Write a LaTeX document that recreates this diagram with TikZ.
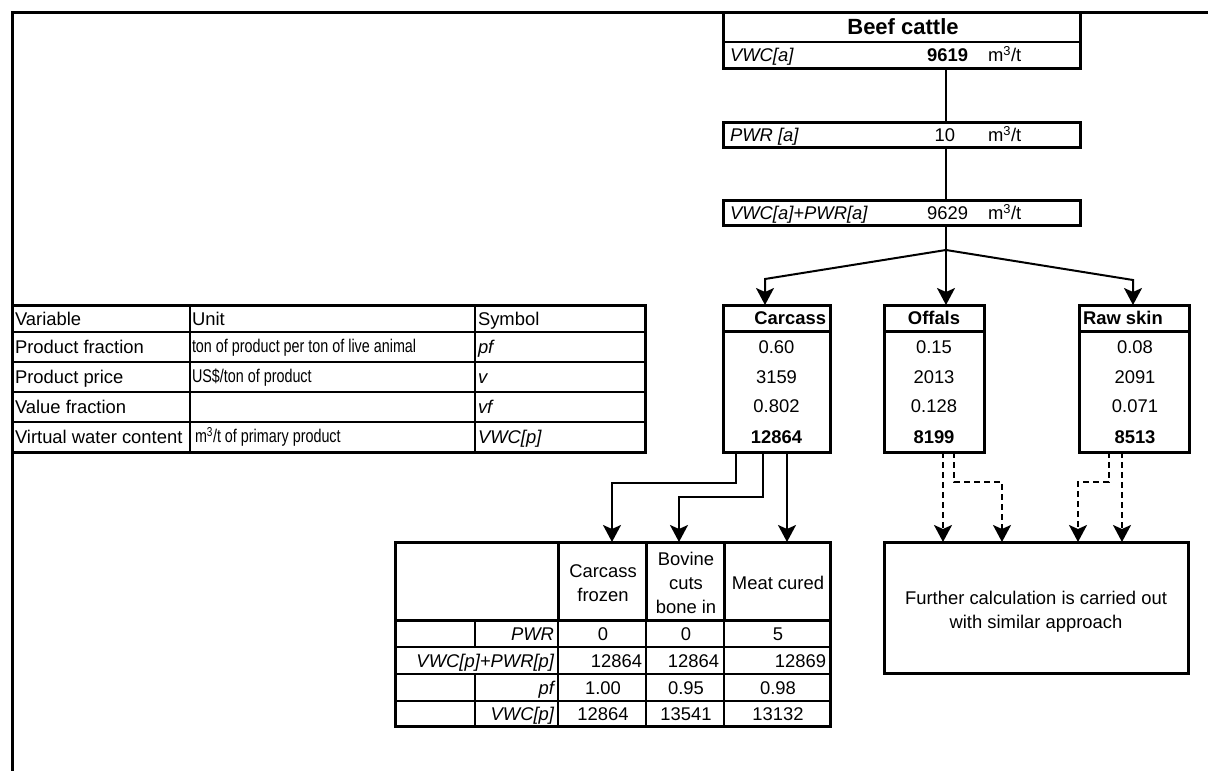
\documentclass[tikz,border=0pt]{standalone}
\usepackage{fontspec}
\setmainfont{Liberation Sans}
\newfontfamily\narrowfont{Liberation Sans}[FakeStretch=0.78]
\usetikzlibrary{arrows.meta}
\tikzset{
  txt/.style={inner sep=0pt, outer sep=0pt, text height=13.3pt, text depth=0.1pt, font=\fontsize{18.4}{21}\selectfont},
  bigtxt/.style={txt, text height=15.8pt, font=\fontsize{22}{24}\selectfont\bfseries},
  narrowtxt/.style={txt, text height=13pt, font=\fontsize{18.4}{21}\selectfont\narrowfont},
  box/.style={draw, line width=3pt, inner sep=0pt, outer sep=0pt, anchor=north west},
  frameline/.style={line width=3pt},
  midline/.style={line width=1.8pt},
  thinline/.style={line width=1.1pt},
  conn/.style={line width=2pt},
  arr/.style={conn, -{Stealth[length=17pt,width=18pt,inset=4pt]}},
  darr/.style={arr, dash pattern=on 6pt off 4pt},
}
\begin{document}
\begin{tikzpicture}[x=1pt,y=-1pt]
\useasboundingbox (0,0) rectangle (1208,771);
% outer frame
\coordinate (fbl) at (12,771);
\coordinate (ftl) at (12,12);
\coordinate (ftr) at (1208,12);
\draw[frameline] (fbl) -- (ftl) -- (ftr);

% ---- Beef cattle box
\node[box, minimum width=357pt, minimum height=56pt] (beef) at (723,12) {};
\draw[midline] (723,42) -- (1080,42);
\node[bigtxt] (beefT) at (903,27) {Beef cattle};
\node[txt, anchor=west] (vwcaL) at (730,55) {\itshape VWC[a]};
\node[txt, anchor=east] (vwcaV) at (968,55) {\bfseries 9619};
\node[txt, anchor=west] (vwcaU) at (988,55) {m\textsuperscript{3}/t};

% ---- PWR box
\node[box, minimum width=357pt, minimum height=25pt] (pwr) at (723,122) {};
\node[txt, anchor=west] (pwrL) at (730,135) {\itshape PWR [a]};
\node[txt, anchor=east] (pwrV) at (955,135) {10};
\node[txt, anchor=west] (pwrU) at (988,135) {m\textsuperscript{3}/t};

% ---- VWC+PWR box
\node[box, minimum width=357pt, minimum height=25pt] (vp) at (723,200) {};
\node[txt, anchor=west] (vpL) at (730,213) {\itshape VWC[a]+PWR[a]};
\node[txt, anchor=east] (vpV) at (968,213) {9629};
\node[txt, anchor=west] (vpU) at (988,213) {m\textsuperscript{3}/t};

% ---- product boxes
\node[box, minimum width=107pt, minimum height=147pt] (carcass) at (723,305) {};
\draw[frameline] (723,331) -- (830,331);
\node[txt, anchor=east] (carT) at (826,318) {\bfseries Carcass};
\node[txt] (car1) at (776.5,347) {0.60};
\node[txt] (car2) at (776.5,377) {3159};
\node[txt] (car3) at (776.5,406) {0.802};
\node[txt] (car4) at (776.5,437) {\bfseries 12864};

\node[box, minimum width=100pt, minimum height=147pt] (offals) at (884,305) {};
\draw[frameline] (884,331) -- (984,331);
\node[txt] (offT) at (934,318) {\bfseries Offals};
\node[txt] (off1) at (934,347) {0.15};
\node[txt] (off2) at (934,377) {2013};
\node[txt] (off3) at (934,406) {0.128};
\node[txt] (off4) at (934,437) {\bfseries 8199};

\node[box, minimum width=110pt, minimum height=147pt] (rawskin) at (1079,305) {};
\draw[frameline] (1079,331) -- (1189,331);
\node[txt, anchor=west] (rawT) at (1083,318) {\bfseries Raw skin};
\node[txt] (raw1) at (1135,347) {0.08};
\node[txt] (raw2) at (1135,377) {2091};
\node[txt] (raw3) at (1135,406) {0.071};
\node[txt] (raw4) at (1135,437) {\bfseries 8513};

% ---- top connectors
\coordinate (j0) at (946,250);
\coordinate (jl) at (765,279);
\coordinate (jr) at (1133,280);
\draw[conn] (beef.south -| j0) -- (pwr.north -| j0);
\draw[conn] (pwr.south -| j0) -- (vp.north -| j0);
\draw[conn] (vp.south -| j0) -- (j0);
\draw[arr] (j0) -- (jl) -- (carcass.north -| jl);
\draw[arr] (j0) -- (offals.north -| j0);
\draw[arr] (j0) -- (jr) -- (rawskin.north -| jr);

% ---- variable table
\draw[thinline] (12,332) -- (645,332) (12,362) -- (645,362) (12,392) -- (645,392) (12,422) -- (645,422);
\draw[thinline] (190,305) -- (190,452) (475,305) -- (475,452);
\draw[frameline] (12,305) -- (645,305) -- (645,452) -- (12,452);
\node[txt, anchor=west] (v11) at (15,318.5) {Variable};
\node[txt, anchor=west] (v12) at (192,318.5) {Unit};
\node[txt, anchor=west] (v13) at (478,318.5) {Symbol};
\node[txt, anchor=west] (v21) at (15,347) {Product fraction};
\node[narrowtxt, anchor=west] (v22) at (192,346) {ton of product per ton of live animal};
\node[txt, anchor=west] (v23) at (478,347) {\itshape pf};
\node[txt, anchor=west] (v31) at (15,377) {Product price};
\node[narrowtxt, anchor=west] (v32) at (192,376) {US\$/ton of product};
\node[txt, anchor=west] (v33) at (478,377) {\itshape v};
\node[txt, anchor=west] (v41) at (15,407) {Value fraction};
\node[txt, anchor=west] (v43) at (478,407) {\itshape vf};
\node[txt, anchor=west] (v51) at (15,437) {Virtual water content};
\node[narrowtxt, anchor=west] (v52) at (195,436) {m\textsuperscript{3}/t of primary product};
\node[txt, anchor=west] (v53) at (478,437) {\itshape VWC[p]};

% ---- derived products table
\node[box, minimum width=435pt, minimum height=184pt] (prodtab) at (395,542) {};
\draw[frameline] (395,620) -- (830,620);
\draw[frameline] (558,542) -- (558,620) (646,542) -- (646,620) (724,542) -- (724,620);
\draw[midline] (558,620) -- (558,726) (646,620) -- (646,726) (724,620) -- (724,726);
\draw[thinline] (475,620) -- (475,647) (475,674) -- (475,726);
\draw[thinline] (395,647) -- (830,647) (395,674) -- (830,674) (395,701) -- (830,701);
\node[txt] (h1a) at (603,571) {Carcass};
\node[txt] (h1b) at (603,595) {frozen};
\node[txt] (h2a) at (686,559) {Bovine};
\node[txt] (h2b) at (686,583) {cuts};
\node[txt] (h2c) at (686,607) {bone in};
\node[txt] (h3a) at (778,583) {Meat cured};
\node[txt, anchor=east] (r1) at (554,633.5) {\itshape PWR};
\node[txt, anchor=east] (r2) at (554,660.5) {\itshape VWC[p]+PWR[p]};
\node[txt, anchor=east] (r3) at (554,687.5) {\itshape pf};
\node[txt, anchor=east] (r4) at (554,713.5) {\itshape VWC[p]};
\node[txt] (p11) at (603,633.5) {0};
\node[txt] (p12) at (686,633.5) {0};
\node[txt] (p13) at (778,633.5) {5};
\node[txt, anchor=east] (p21) at (642,660.5) {12864};
\node[txt, anchor=east] (p22) at (719,660.5) {12864};
\node[txt, anchor=east] (p23) at (826,660.5) {12869};
\node[txt] (p31) at (603,687.5) {1.00};
\node[txt] (p32) at (686,687.5) {0.95};
\node[txt] (p33) at (778,687.5) {0.98};
\node[txt] (p41) at (603,713.5) {12864};
\node[txt] (p42) at (686,713.5) {13541};
\node[txt] (p43) at (778,713.5) {13132};

% ---- carcass connectors
\coordinate (k1) at (736,483);
\coordinate (k2) at (612,483);
\coordinate (k3) at (763,497);
\coordinate (k4) at (679,497);
\coordinate (k5) at (787,500);
\draw[arr] (carcass.south -| k1) -- (k1) -- (k2) -- (prodtab.north -| k2);
\draw[arr] (carcass.south -| k3) -- (k3) -- (k4) -- (prodtab.north -| k4);
\draw[arr] (carcass.south -| k5) -- (prodtab.north -| k5);

% ---- further box
\node[box, minimum width=304pt, minimum height=131pt] (further) at (884,542) {};
\node[txt] (fa) at (1036,598) {Further calculation is carried out};
\node[txt] (fb) at (1036,622) {with similar approach};

% ---- dashed connectors
\coordinate (d1) at (943,500);
\coordinate (d2) at (954,482);
\coordinate (d3) at (1002,482);
\coordinate (d4) at (1122,500);
\coordinate (d5) at (1109,482);
\coordinate (d6) at (1078,482);
\draw[darr] (offals.south -| d1) -- (further.north -| d1);
\draw[darr] (offals.south -| d2) -- (d2) -- (d3) -- (further.north -| d3);
\draw[darr] (rawskin.south -| d4) -- (further.north -| d4);
\draw[darr] (rawskin.south -| d5) -- (d5) -- (d6) -- (further.north -| d6);
\end{tikzpicture}
\end{document}
